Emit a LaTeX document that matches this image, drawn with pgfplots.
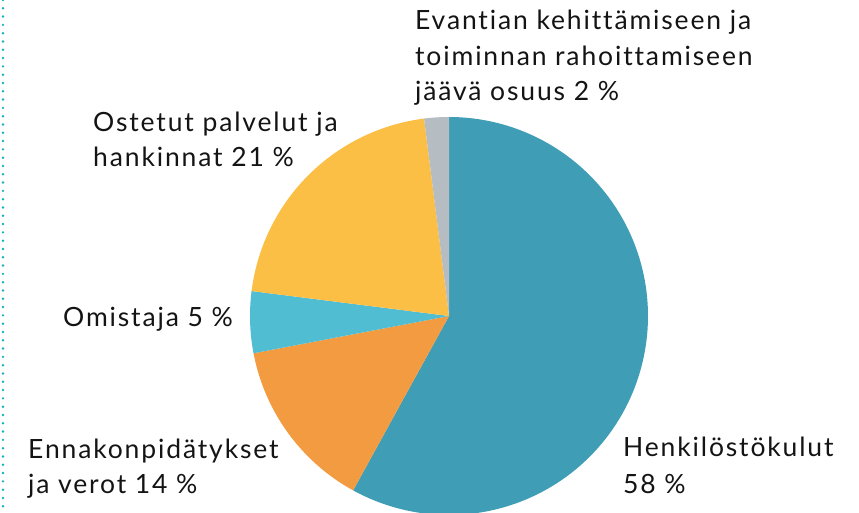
\documentclass[border=0pt]{standalone}
\usepackage{fontspec}
\setmainfont{Lato}[LetterSpace=7, Ligatures=NoCommon]
\usepackage{pgfplots}
\pgfplotsset{compat=1.18}
\definecolor{cHenk}{HTML}{3F9DB5}
\definecolor{cEnna}{HTML}{F39B40}
\definecolor{cOmis}{HTML}{50BDD3}
\definecolor{cOste}{HTML}{FCBF46}
\definecolor{cEvan}{HTML}{B5BDC3}
\definecolor{cDot}{HTML}{16ADC6}
\definecolor{cTxt}{HTML}{141414}
% shares in percent, clockwise from the top
\def\pHenk{58}
\def\pEnna{14}
\def\pOmis{5}
\def\pOste{21}
\def\pEvan{2}
\pgfmathsetmacro\aA{90}
\pgfmathsetmacro\aB{\aA-3.6*\pHenk}
\pgfmathsetmacro\aC{\aB-3.6*\pEnna}
\pgfmathsetmacro\aD{\aC-3.6*\pOmis}
\pgfmathsetmacro\aE{\aD-3.6*\pOste}
\pgfmathsetmacro\aF{\aE-3.6*\pEvan}
\newcommand\lbl[3]{\node[anchor=base west, inner sep=0pt, text=cTxt, font=\fontsize{26.5}{30}\selectfont] at (#1,#2) {#3};}
\begin{document}
\begin{tikzpicture}[x=1pt,y=1pt]
\path[use as bounding box] (0,0) rectangle (859,513);
\begin{axis}[at={(0,0)}, anchor=south west, scale only axis, width=859pt, height=513pt,
  xmin=0, xmax=859, ymin=0, ymax=513, hide axis, clip=true]
\addplot[fill=cHenk, draw=none, domain=\aB:\aA, samples=150, variable=\t] ({449+199*cos(\t)},{197+199*sin(\t)}) -- (axis cs:449,197) -- cycle;
\addplot[fill=cEnna, draw=none, domain=\aC:\aB, samples=60, variable=\t] ({449+199*cos(\t)},{197+199*sin(\t)}) -- (axis cs:449,197) -- cycle;
\addplot[fill=cOmis, draw=none, domain=\aD:\aC, samples=30, variable=\t] ({449+199*cos(\t)},{197+199*sin(\t)}) -- (axis cs:449,197) -- cycle;
\addplot[fill=cOste, draw=none, domain=\aE:\aD, samples=80, variable=\t] ({449+199*cos(\t)},{197+199*sin(\t)}) -- (axis cs:449,197) -- cycle;
\addplot[fill=cEvan, draw=none, domain=\aF:\aE, samples=20, variable=\t] ({449+199*cos(\t)},{197+199*sin(\t)}) -- (axis cs:449,197) -- cycle;
\addplot[cDot, line width=2.7pt, line cap=round, dash pattern=on 0pt off 8.3pt] coordinates {(3,513) (3,0)};
\end{axis}
\lbl{415}{483}{Evantian kehittämiseen ja}
\lbl{415}{447}{toiminnan rahoittamiseen}
\lbl{415}{412}{jäävä osuus 2 \%}
\lbl{93}{381}{Ostetut palvelut ja}
\lbl{93}{346}{hankinnat 21 \%}
\lbl{63}{186}{Omistaja 5 \%}
\lbl{28}{54}{Ennakonpidätykset}
\lbl{28}{19}{ja verot 14 \%}
\lbl{623}{56}{Henkilöstökulut}
\lbl{623}{19}{58 \%}
\end{tikzpicture}
\end{document}
